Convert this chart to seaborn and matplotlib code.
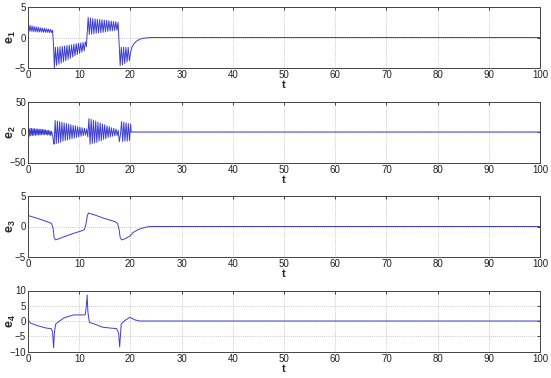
import matplotlib
matplotlib.use("Agg")
import matplotlib.pyplot as plt
import seaborn as sns
import pandas as pd

# ---------------- data ----------------
t_axis_ticks = [0, 10, 20, 30, 40, 50, 60, 70, 80, 90, 100]

e1_t = [0, 0.2, 0.4, 0.6, 0.8, 1.0, 1.2, 1.4, 1.6, 1.8, 2.0, 2.2, 2.4, 2.6, 2.8, 3.0,
        3.2, 3.4, 3.6, 3.8, 4.0, 4.2, 4.4, 4.6, 4.8, 5.0, 5.15,
        5.35, 5.58, 5.8, 6.03, 6.25, 6.48, 6.7, 6.93, 7.15, 7.38, 7.6, 7.83, 8.05, 8.28,
        8.5, 8.73, 8.95, 9.18, 9.4, 9.63, 9.85, 10.08, 10.3, 10.53, 10.75, 10.98, 11.2, 11.4,
        11.75, 11.98, 12.2, 12.43, 12.65, 12.88, 13.1, 13.33, 13.55, 13.78, 14.0, 14.23,
        14.45, 14.68, 14.9, 15.13, 15.35, 15.58, 15.8, 16.03, 16.25, 16.48, 16.7, 16.93,
        17.15, 17.38, 17.6, 17.8, 18.0, 18.22, 18.45, 18.67, 18.9, 19.12, 19.35, 19.57,
        19.8, 20.0, 20.3, 20.7, 21.2, 21.8, 22.5, 23.5, 24.5, 100]
e1_v = [2.3, 1.0, 2.0, 1.0, 1.9, 0.95, 1.8, 0.95, 1.75, 0.9, 1.7, 0.9, 1.6, 0.9, 1.55, 0.85,
        1.5, 0.85, 1.45, 0.85, 1.4, 0.8, 1.35, 0.8, 1.2, -1.5, -5.0,
        -1.6, -4.6, -1.55, -4.4, -1.5, -4.2, -1.45, -4.0, -1.4, -3.8, -1.3, -3.6, -1.25, -3.4,
        -1.2, -3.2, -1.1, -3.0, -1.0, -2.8, -0.95, -2.6, -0.9, -2.4, -0.8, -2.2, -0.7, -1.5,
        3.3, 0.5, 3.2, 0.55, 3.1, 0.6, 3.05, 0.7, 3.0, 0.75, 2.95, 0.8,
        2.9, 0.85, 2.85, 0.9, 2.8, 1.0, 2.75, 1.05, 2.7, 1.1, 2.65, 1.15,
        2.6, 1.2, 2.5, -1.0, -4.6, -1.6, -4.5, -1.6, -4.3, -1.6, -4.0, -1.6,
        -3.8, -2.6, -1.6, -1.0, -0.6, -0.3, -0.12, -0.03, 0.0, 0.0]

e2_t = [0, 0.1, 0.25, 0.4, 0.55, 0.7, 0.85, 1.0, 1.15, 1.3, 1.45, 1.6, 1.75, 1.9, 2.05,
        2.2, 2.35, 2.5, 2.65, 2.8, 2.95, 3.1, 3.25, 3.4, 3.55, 3.7, 3.85, 4.0, 4.15, 4.3,
        4.45, 4.6, 4.8, 4.95, 5.1,
        5.3, 5.52, 5.74, 5.96, 6.18, 6.4, 6.62, 6.84, 7.06, 7.28, 7.5, 7.72, 7.94, 8.16,
        8.38, 8.6, 8.82, 9.04, 9.26, 9.48, 9.7, 9.92, 10.14, 10.36, 10.58, 10.8, 11.02,
        11.24, 11.46, 11.68,
        11.9, 12.12, 12.34, 12.56, 12.78, 13.0, 13.22, 13.44, 13.66, 13.88, 14.1, 14.32,
        14.54, 14.76, 14.98, 15.2, 15.42, 15.64, 15.86, 16.08, 16.3, 16.52, 16.74, 16.96,
        17.18, 17.4, 17.62, 17.84, 18.06,
        18.28, 18.5, 18.72, 18.94, 19.16, 19.38, 19.6, 19.82, 20.04, 20.15, 100]
e2_v = [0, 8, -7, 6, -6, 6, -6, 5.5, -5.5, 5.5, -5.5, 5, -5, 5, -5,
        4.5, -5, 4.5, -4.5, 4.5, -4.5, 4, -4.5, 3.5, -4.5, 3, -5, 2.5, -5, 2,
        -6, 1, -5, -14, -20,
        19, -19, 18, -18, 17, -17, 16, -15, 15, -14, 14, -13, 13, -12,
        12, -11, 11, -10, 10, -9, 9, -8, 8, -7, 7, -6, 6,
        -5, 5, -8,
        22, -20, 21, -19, 19, -18, 18, -17, 16, -15, 15, -14,
        13, -12, 12, -11, 10, -9, 9, -8, 7, -7, 6, -6,
        5, -6, 3, -16, -4,
        17, -16, 16, -15, 15, -15, 14, -14, 13, 0, 0]

e3_t = [0, 2, 4, 4.6, 4.9, 5.1, 5.4, 7, 9, 10.5, 11.0, 11.3, 11.6, 11.8,
        13, 15, 17, 17.5, 17.8, 18.0, 18.3, 19, 20, 20.5, 21.5, 23, 24, 100]
e3_v = [1.8, 1.3, 0.7, 0.5, -0.3, -1.8, -2.2, -1.7, -1.1, -0.7, -0.5, 0.3, 1.8, 2.2,
        1.9, 1.3, 0.8, 0.5, -0.5, -1.8, -2.2, -2.0, -1.5, -1.0, -0.5, -0.1, 0.0, 0.0]

e4_t = [0, 0.05, 0.15, 0.5, 2, 3.5, 4.5, 4.8, 5.0, 5.15, 5.4, 6, 7, 8.5, 9, 11,
        11.2, 11.4, 11.55, 11.7, 11.9, 12, 13, 14.5, 16, 17.3, 17.7, 17.9, 18.2,
        18.8, 19.5, 19.9, 20.5, 21, 21.8, 100]
e4_v = [3.3, 1.0, 0.0, -0.7, -1.6, -2.3, -2.5, -3.5, -8.8, -4.0, -1.0, -0.2, 1.0, 1.8, 2.0, 2.0,
        2.2, 5.0, 8.5, 3.0, 0.5, -0.5, -1.0, -2.0, -2.3, -2.5, -4.0, -8.5, -1.0,
        0.0, 0.8, 1.2, 0.7, 0.3, 0.0, 0.0]

series = [
    ("1", e1_t, e1_v, (-5, 5), [-5, 0, 5]),
    ("2", e2_t, e2_v, (-50, 50), [-50, 0, 50]),
    ("3", e3_t, e3_v, (-5, 5), [-5, 0, 5]),
    ("4", e4_t, e4_v, (-10, 10), [-10, -5, 0, 5, 10]),
]

# ---------------- drawing ----------------
sns.set_style("white")
plt.rcParams["font.family"] = ["Liberation Sans", "DejaVu Sans"]
plt.rcParams["mathtext.fontset"] = "custom"
plt.rcParams["mathtext.rm"] = "Liberation Sans"
plt.rcParams["mathtext.bf"] = "Liberation Sans:bold"

fig = plt.figure(figsize=(5.51, 3.78), dpi=100)
fig.patch.set_facecolor("white")

W, H = 551.0, 378.0
left_px, right_px = 28, 540
tops_px = [7, 101.5, 196, 290.5]
h_px = 61

line_color = "#3d3dd2"

for (name, tt, vv, ylim, yticks), top in zip(series, tops_px):
    ax = fig.add_axes([left_px / W, 1 - (top + h_px) / H,
                       (right_px - left_px) / W, h_px / H])
    df = pd.DataFrame({"t": tt, "e": vv})
    sns.lineplot(data=df, x="t", y="e", ax=ax, color=line_color,
                 linewidth=0.7, estimator=None, sort=False)
    ax.set_xlim(0, 100)
    ax.set_ylim(*ylim)
    ax.set_xticks(t_axis_ticks)
    ax.set_yticks(yticks)
    ax.tick_params(direction="in", length=2.5, width=0.6, labelsize=7,
                   pad=1.5, top=True, right=True, colors="#222222")
    ax.grid(True, linestyle=(0, (1, 2)), color="#9a9a9a", linewidth=0.5)
    for sp in ax.spines.values():
        sp.set_visible(True)
        sp.set_color("#444444")
        sp.set_linewidth(0.7)
    ax.set_xlabel("t", fontsize=8, fontweight="bold", labelpad=0)
    ax.set_ylabel(r"$\mathbf{e}_{\mathbf{%s}}$" % name, fontsize=9)
    ax.yaxis.set_label_coords(-0.02, 0.5)

fig.savefig("out.png", dpi=100, facecolor="white")
